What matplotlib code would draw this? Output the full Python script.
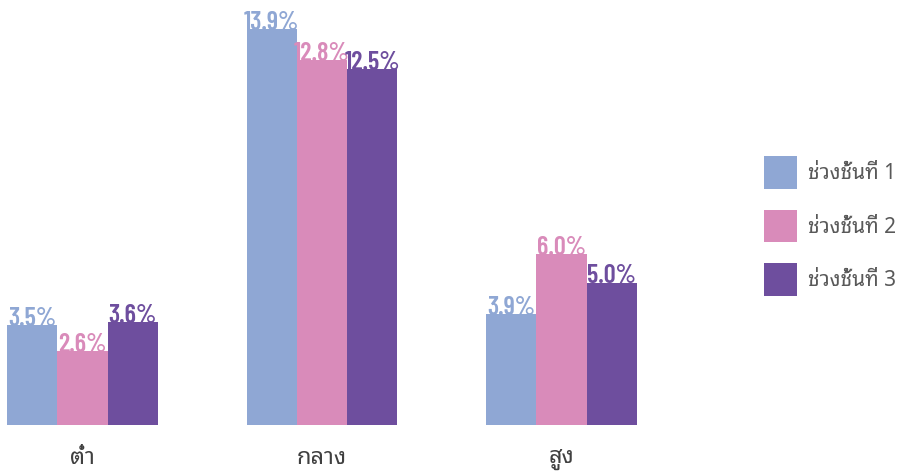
import matplotlib
matplotlib.use("Agg")
import matplotlib.pyplot as plt
import numpy as np

categories = ["ต่ำ", "กลาง", "สูง"]
series_names = ["ช่วงชั้นที่ 1", "ช่วงชั้นที่ 2", "ช่วงชั้นที่ 3"]
level1 = [3.5, 13.9, 3.9]
level2 = [2.6, 12.8, 6.0]
level3 = [3.6, 12.5, 5.0]
colors = ["#8FA7D4", "#D98BBA", "#6E4E9E"]

thai = ["Noto Sans Thai Looped", "DejaVu Sans"]
num_font = ["Barlow Condensed", "DejaVu Sans"]

fig = plt.figure(figsize=(9.03, 4.75), dpi=100)
ax = fig.add_axes([0, 50 / 475, 720 / 903, 425 / 475])

x = np.arange(len(categories))
w = 0.21
for i, (vals, name, c) in enumerate(zip([level1, level2, level3], series_names, colors)):
    bars = ax.bar(x + (i - 1) * w, vals, w, color=c, label=name)
    for b, v in zip(bars, vals):
        ax.text(b.get_x() + b.get_width() / 2, v - 0.03, f"{v:.1f}%", ha="center", va="baseline",
                color=c, fontsize=19, fontweight="semibold", family=num_font)

ax.set_xlim(-82.5 / 239.5, (720 - 82.5) / 239.5)
ax.set_ylim(0, 425 / 28.49)
ax.set_xticks(x)
ax.set_xticklabels(categories, family=thai, fontsize=17, color="#404040")
ax.tick_params(axis="x", length=0, pad=15)
ax.set_yticks([])
for s in ax.spines.values():
    s.set_visible(False)

fig.legend(loc="center left", bbox_to_anchor=(764 / 903, 1 - 226 / 475), frameon=False,
           prop={"family": thai, "size": 15, "weight": "light"}, labelcolor="#595959",
           handlelength=1.6, handleheight=2.05, labelspacing=1.0, handletextpad=0.5,
           borderpad=0, borderaxespad=0)

fig.savefig("out.png", dpi=100)
